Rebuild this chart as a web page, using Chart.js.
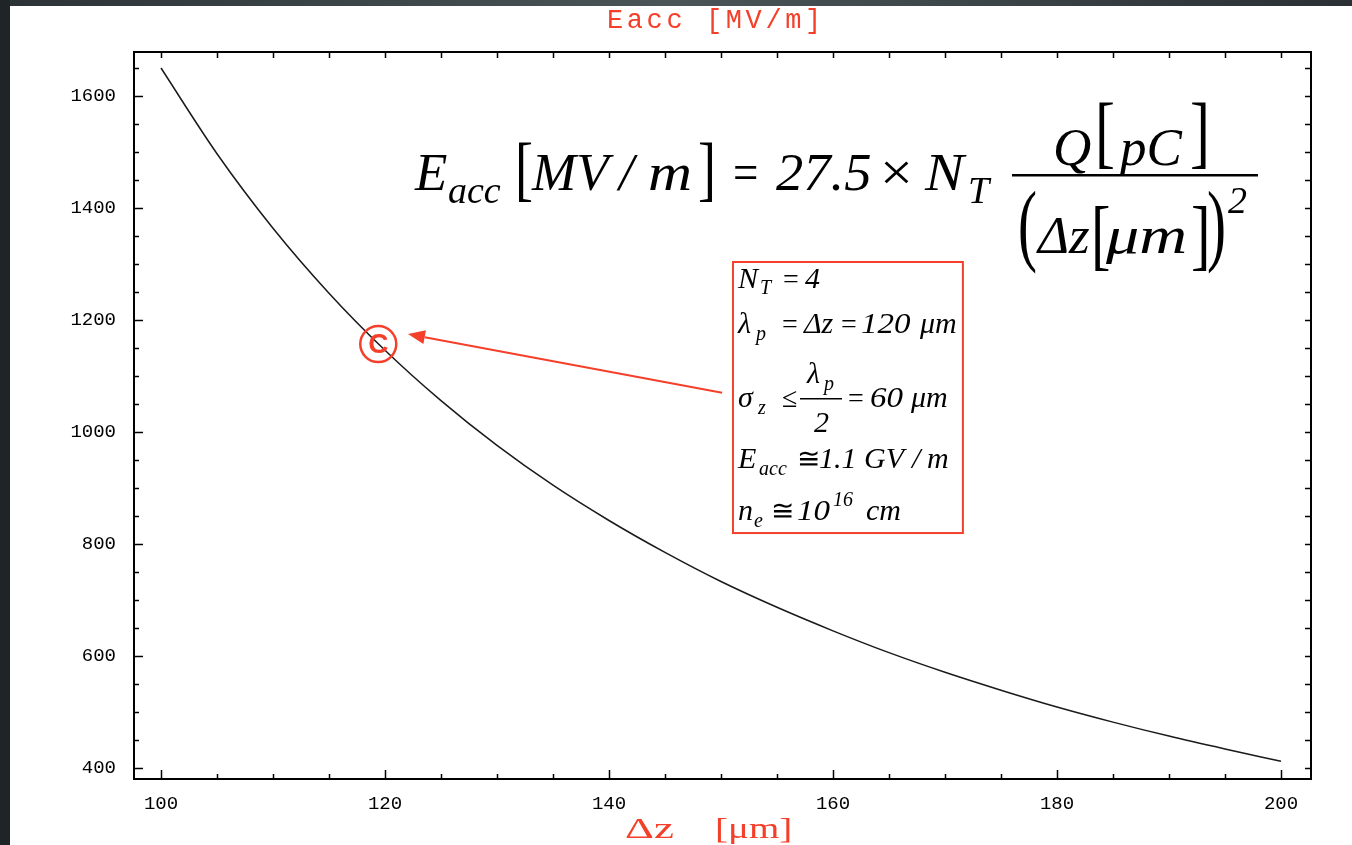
<!DOCTYPE html>
<html>
<head>
<meta charset="utf-8">
<script src="https://cdn.jsdelivr.net/npm/chart.js@4/dist/chart.umd.min.js"></script>
<style>
  html, body { margin: 0; padding: 0; background: #262c2f; overflow: hidden; }
  #wrap { width: 1352px; height: 845px; }
</style>
</head>
<body>
<div id="wrap"><canvas id="eaccChart" width="1352" height="845"></canvas></div>
<script>
// Dữ liệu: Δz [μm] và Eacc [MV/m]
const dz = [100, 105, 110, 115, 120, 125, 130, 135, 140, 145, 150, 155, 160, 165, 170, 175, 180, 185, 190, 195, 200];
const eacc = [1650, 1497, 1364, 1248, 1146, 1056, 976, 905, 842, 785, 733, 687, 645, 606, 571, 539, 509, 482, 457, 434, 412];
const xTicks = [100, 120, 140, 160, 180, 200];
const yTicks = [400, 600, 800, 1000, 1200, 1400, 1600];

// điểm đánh dấu (C) và mũi tên chỉ vào nó
const markPoint = { x: 119.4, y: 1157 };
const arrowFrom = { x: 150.1, y: 1070 };
const arrowTo = { x: 122.05, y: 1175 };
const infoBox = { x0: 151.07, x1: 171.6, y0: 1303.6, y1: 819.6 };

const RED = '#f4402a';
const IT = s => `italic ${s}px "Liberation Serif"`;
const RM = s => `${s}px "Liberation Serif"`;

// vẽ chữ tại vị trí cố định, có thể giãn ngang
function put(ctx, t, x, y, font, sx) {
    ctx.save();
    ctx.font = font;
    ctx.translate(x, y);
    ctx.scale(sx || 1, 1);
    ctx.fillText(t, 0, 0);
    ctx.restore();
}

const decorPlugin = {
    id: 'decor',
    beforeDraw(chart) {
        const ctx = chart.ctx;
        ctx.save();
        const g = ctx.createLinearGradient(0, 0, 1352, 0);
        g.addColorStop(0, '#2c3336');
        g.addColorStop(0.5, '#4a5558');
        g.addColorStop(1, '#2a3033');
        ctx.fillStyle = g;
        ctx.fillRect(0, 0, 1352, 845);
        ctx.fillStyle = '#1f2527';
        ctx.fillRect(0, 0, 10, 845);
        ctx.fillStyle = '#ffffff';
        ctx.fillRect(10, 6, 1342, 839);
        ctx.restore();
    },
    afterDraw(chart) {
        const ctx = chart.ctx;
        const a = chart.chartArea;
        const xs = chart.scales.x, ys = chart.scales.y;
        ctx.save();

        // khung và vạch chia hướng vào trong
        ctx.strokeStyle = '#000';
        ctx.lineWidth = 2;
        ctx.strokeRect(a.left, a.top, a.right - a.left, a.bottom - a.top);
        ctx.lineWidth = 1.5;
        ctx.beginPath();
        for (let v = 100; v <= 200; v += 5) {
            const px = Math.round(xs.getPixelForValue(v)) + 0.5;
            const L = v % 20 === 0 ? 9 : 5;
            ctx.moveTo(px, a.bottom); ctx.lineTo(px, a.bottom - L);
            ctx.moveTo(px, a.top); ctx.lineTo(px, a.top + 6);
        }
        for (let v = 400; v <= 1650; v += 50) {
            const py = Math.round(ys.getPixelForValue(v)) + 0.5;
            const L = v % 200 === 0 ? 9 : 5;
            ctx.moveTo(a.left, py); ctx.lineTo(a.left + L, py);
            ctx.moveTo(a.right, py); ctx.lineTo(a.right - 6, py);
        }
        ctx.stroke();

        // tiêu đề và nhãn trục
        ctx.fillStyle = RED;
        ctx.textAlign = 'left';
        ctx.textBaseline = 'alphabetic';
        ctx.letterSpacing = '3.6px';
        ctx.font = '27px "Liberation Mono"';
        ctx.fillText('Eacc [MV/m]', 607, 28);
        ctx.letterSpacing = '0px';
        put(ctx, 'Δz', 625, 838, RM(30), 1.5);
        put(ctx, '[μm]', 715, 838, RM(30), 1.3);

        // công thức lớn
        ctx.fillStyle = '#000';
        put(ctx, 'E', 415, 190, IT(53));
        put(ctx, 'acc', 448, 203, IT(38));
        put(ctx, '[', 515, 192, RM(72), 0.75);
        put(ctx, 'MV', 532, 190, IT(53));
        put(ctx, '/', 619, 190, IT(53));
        put(ctx, 'm', 648, 190, IT(53), 1.15);
        put(ctx, ']', 698, 192, RM(72), 0.75);
        put(ctx, '=', 733, 190, RM(53), 0.85);
        put(ctx, '27.5', 776, 190, IT(53), 1.03);
        put(ctx, '×', 880, 190, RM(53), 1.1);
        put(ctx, 'N', 925, 190, IT(53), 1.1);
        put(ctx, 'T', 968, 203, IT(38));

        put(ctx, 'Q', 1053, 165, IT(53));
        put(ctx, '[', 1095, 158, RM(80), 0.75);
        put(ctx, 'pC', 1120, 165, IT(53));
        put(ctx, ']', 1190, 158, RM(80), 0.75);
        ctx.fillRect(1012, 174, 246, 2.5);
        put(ctx, '(', 1018, 254, RM(92), 0.62);
        put(ctx, 'Δz', 1038, 253, IT(53));
        put(ctx, '[', 1091, 261, RM(78), 0.75);
        put(ctx, 'μm', 1106, 253, IT(53), 1.25);
        put(ctx, ']', 1191, 261, RM(78), 0.75);
        put(ctx, ')', 1207, 254, RM(92), 0.62);
        put(ctx, '2', 1228, 213, IT(38));

        // hộp thông số
        const bx0 = xs.getPixelForValue(infoBox.x0), bx1 = xs.getPixelForValue(infoBox.x1);
        const by0 = ys.getPixelForValue(infoBox.y0), by1 = ys.getPixelForValue(infoBox.y1);
        ctx.strokeStyle = RED;
        ctx.lineWidth = 2;
        ctx.strokeRect(bx0, by0, bx1 - bx0, by1 - by0);

        ctx.fillStyle = '#000';
        const F = IT(30), S = IT(20), R = RM(28);
        put(ctx, 'N', 738, 288, F);
        put(ctx, 'T', 760, 294, S);
        put(ctx, '=', 783, 288, R);
        put(ctx, '4', 805, 288, F);

        put(ctx, 'λ', 738, 333, F);
        put(ctx, 'p', 756, 340, S);
        put(ctx, '=', 782, 333, R);
        put(ctx, 'Δz', 804, 333, F);
        put(ctx, '=', 841, 333, R);
        put(ctx, '120', 861, 333, F, 1.1);
        put(ctx, 'μm', 920, 333, F);

        put(ctx, 'σ', 738, 407, F);
        put(ctx, 'z', 758, 414, S);
        put(ctx, '≤', 782, 407, R);
        put(ctx, 'λ', 807, 383, F);
        put(ctx, 'p', 824, 390, S);
        ctx.fillRect(800, 398, 42, 1.5);
        put(ctx, '2', 814, 432, F);
        put(ctx, '=', 848, 407, R);
        put(ctx, '60', 870, 407, F, 1.1);
        put(ctx, 'μm', 911, 407, F);

        put(ctx, 'E', 738, 468, F);
        put(ctx, 'acc', 759, 475, S);
        put(ctx, '≅', 797, 468, R);
        put(ctx, '1.1', 819, 468, F);
        put(ctx, 'GV', 864, 468, F);
        put(ctx, '/', 912, 468, F);
        put(ctx, 'm', 927, 468, F);

        put(ctx, 'n', 738, 520, F);
        put(ctx, 'e', 754, 527, S);
        put(ctx, '≅', 771, 520, R);
        put(ctx, '10', 797, 520, F, 1.1);
        put(ctx, '16', 833, 506, S);
        put(ctx, 'cm', 866, 520, F);

        // mũi tên
        const ax0 = xs.getPixelForValue(arrowFrom.x), ay0 = ys.getPixelForValue(arrowFrom.y);
        const ax1 = xs.getPixelForValue(arrowTo.x), ay1 = ys.getPixelForValue(arrowTo.y);
        const ang = Math.atan2(ay1 - ay0, ax1 - ax0);
        const hl = 17, hw = 7;
        ctx.strokeStyle = RED;
        ctx.fillStyle = RED;
        ctx.lineWidth = 2;
        ctx.beginPath();
        ctx.moveTo(ax0, ay0);
        ctx.lineTo(ax1 - hl * Math.cos(ang), ay1 - hl * Math.sin(ang));
        ctx.stroke();
        ctx.beginPath();
        ctx.moveTo(ax1, ay1);
        ctx.lineTo(ax1 - hl * Math.cos(ang) + hw * Math.sin(ang), ay1 - hl * Math.sin(ang) - hw * Math.cos(ang));
        ctx.lineTo(ax1 - hl * Math.cos(ang) - hw * Math.sin(ang), ay1 - hl * Math.sin(ang) + hw * Math.cos(ang));
        ctx.closePath();
        ctx.fill();

        // vòng tròn (C)
        const cx = xs.getPixelForValue(markPoint.x), cy = ys.getPixelForValue(markPoint.y);
        ctx.lineWidth = 2.5;
        ctx.beginPath();
        ctx.arc(cx, cy, 18, 0, Math.PI * 2);
        ctx.stroke();
        ctx.font = 'bold 28px "Liberation Sans"';
        ctx.textAlign = 'center';
        ctx.textBaseline = 'middle';
        ctx.fillText('C', cx, cy + 1);

        ctx.restore();
    }
};

const ctx = document.getElementById('eaccChart').getContext('2d');
const tickFont = { family: 'Liberation Mono', size: 19 };

new Chart(ctx, {
    type: 'line',
    data: {
        datasets: [{
            data: dz.map((x, i) => ({ x: x, y: eacc[i] })),
            borderColor: '#1a1a1a',
            borderWidth: 1.5,
            pointRadius: 0,
            fill: false,
            cubicInterpolationMode: 'monotone'
        }]
    },
    options: {
        responsive: false,
        animation: false,
        layout: { padding: { left: 0, right: 41, top: 52, bottom: 0 } },
        plugins: { legend: { display: false }, tooltip: { enabled: false } },
        scales: {
            x: {
                type: 'linear',
                min: 97.59,
                max: 202.68,
                grid: { display: false, drawTicks: false },
                border: { display: false },
                afterBuildTicks: s => { s.ticks = xTicks.map(v => ({ value: v })); },
                afterFit: s => { s.height = 66; },
                ticks: { color: '#000', font: tickFont, padding: 14, maxRotation: 0, autoSkip: false, callback: v => String(v) }
            },
            y: {
                type: 'linear',
                min: 380.4,
                max: 1678.6,
                grid: { display: false, drawTicks: false },
                border: { display: false },
                afterBuildTicks: s => { s.ticks = yTicks.map(v => ({ value: v })); },
                afterFit: s => { s.width = 134; },
                ticks: { color: '#000', font: tickFont, padding: 18, autoSkip: false, callback: v => String(v) }
            }
        }
    },
    plugins: [decorPlugin]
});
</script>
</body>
</html>
